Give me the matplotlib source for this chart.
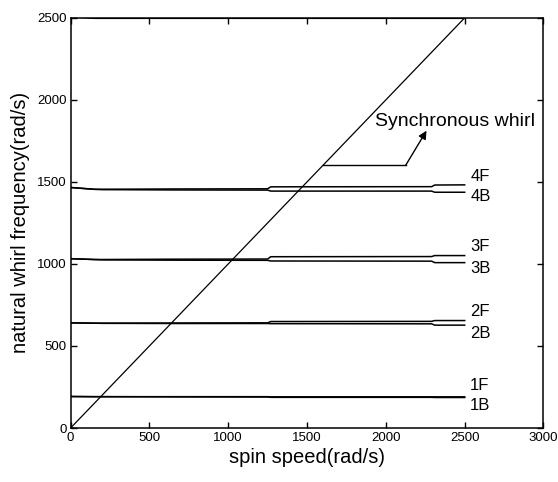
import matplotlib
matplotlib.use("Agg")
import matplotlib.pyplot as plt

# data
speed = [0, 150, 200, 650, 1250, 1270, 2290, 2310, 2500]
mode1F = [192, 191, 191, 191, 191, 190, 190, 190, 190]
mode1B = [192, 191, 191, 190, 189, 187, 187, 186, 186]
mode2F = [641, 639, 639, 640, 641, 649, 650, 655, 655]
mode2B = [641, 639, 638, 637, 637, 636, 635, 627, 627]
mode3F = [1032, 1027, 1027, 1029, 1030, 1044, 1045, 1051, 1051]
mode3B = [1032, 1027, 1025, 1023, 1022, 1018, 1017, 1008, 1008]
mode4F = [1466, 1455, 1455, 1457, 1458, 1470, 1471, 1481, 1482]
mode4B = [1466, 1455, 1453, 1451, 1450, 1444, 1444, 1437, 1437]
mode5 = [2508, 2497, 2497, 2497, 2497, 2497, 2497, 2497, 2497]
sync_x = [0, 2500]
sync_y = [0, 2500]

labels = ["1F", "1B", "2F", "2B", "3F", "3B", "4F", "4B"]
label_y = [262, 140, 713, 579, 1104, 970, 1530, 1409]

xticks = [0, 500, 1000, 1500, 2000, 2500, 3000]
yticks = [0, 500, 1000, 1500, 2000, 2500]

plt.rcParams['font.family'] = ['Liberation Sans', 'DejaVu Sans']

fig = plt.figure(figsize=(5.58, 4.82), dpi=100)
ax = fig.add_axes([0.1265, 0.112, 0.8475, 0.851])

lw = 1.1
for series in [mode1F, mode1B, mode2F, mode2B, mode3F, mode3B, mode4F, mode4B, mode5]:
    ax.plot(speed, series, color='black', lw=lw)
ax.plot(sync_x, sync_y, color='black', lw=0.9)

for lab, yv in zip(labels, label_y):
    ax.text(2535, yv, lab, fontsize=12, ha='left', va='center')

# annotation for synchronous whirl
ax.plot([1600, 2125], [1600, 1600], color='black', lw=1.0)
ax.annotate('', xy=(2258, 1812), xytext=(2125, 1600),
            arrowprops=dict(arrowstyle='-|>', color='black', lw=1.0,
                            mutation_scale=12, shrinkA=0, shrinkB=0))
ax.text(1930, 1866, 'Synchronous whirl', fontsize=14, ha='left', va='center')

ax.set_xlim(0, 3000)
ax.set_ylim(0, 2500)
ax.set_xticks(xticks)
ax.set_yticks(yticks)
ax.set_xticklabels([str(v) for v in xticks], fontsize=9.5)
ax.set_yticklabels([str(v) for v in yticks], fontsize=9.5)
ax.tick_params(direction='in', length=4, width=1.0, top=True, right=True, pad=3)
for s in ax.spines.values():
    s.set_linewidth(1.1)

ax.set_xlabel('spin speed(rad/s)', fontsize=14.5, labelpad=3)
ax.set_ylabel('natural whirl frequency(rad/s)', fontsize=14.5, labelpad=5)

fig.savefig('out.png', dpi=100)
